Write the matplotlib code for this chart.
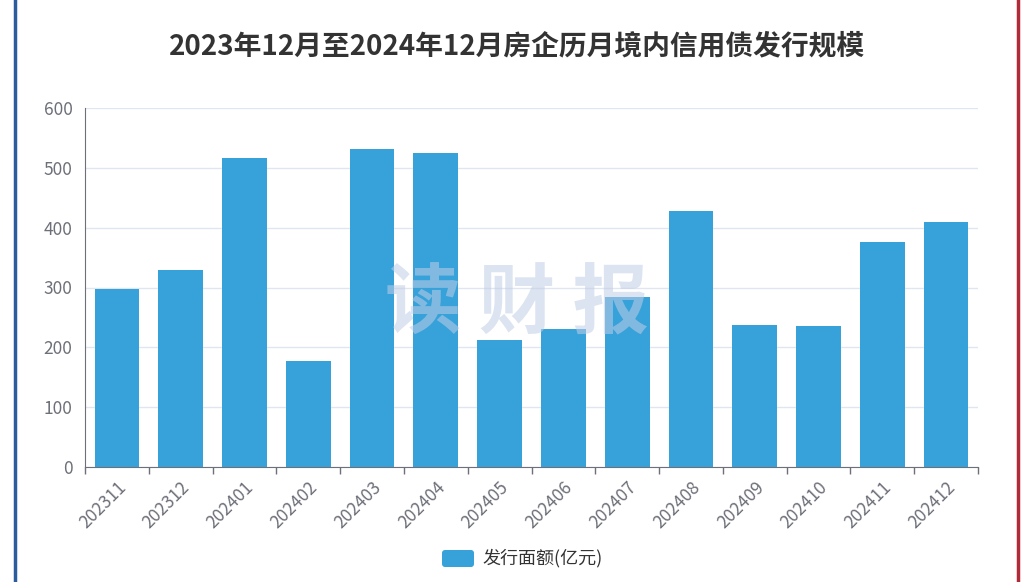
import numpy as np
import matplotlib
matplotlib.use("Agg")
import matplotlib.pyplot as plt
from matplotlib.lines import Line2D
from matplotlib.patches import FancyBboxPatch

plt.rcParams["font.family"] = ["Noto Sans CJK SC", "DejaVu Sans"]

months = ["202311", "202312", "202401", "202402", "202403", "202404", "202405",
          "202406", "202407", "202408", "202409", "202410", "202411", "202412"]
amounts = [298, 330, 517, 177, 532, 525, 212, 231, 284, 428, 237, 236, 376, 410]
yticks = [0, 100, 200, 300, 400, 500, 600]

title = "2023年12月至2024年12月房企历月境内信用债发行规模"
series_name = "发行面额(亿元)"
bar_color = "#37a2da"

fig = plt.figure(figsize=(10.34, 5.82), dpi=100)
ax = fig.add_axes([85 / 1034, 1 - 467 / 582, 893 / 1034, 359 / 582])

x = np.arange(len(months))
ax.bar(x, amounts, width=0.7, color=bar_color, zorder=2)

ax.set_xlim(-0.5, len(months) - 0.5)
ax.set_ylim(0, 600)
ax.set_yticks(yticks)
ax.set_yticklabels([str(v) for v in yticks], fontsize=12.5, color="#6e7079")
ax.tick_params(axis="y", length=0, pad=9)
ax.grid(axis="y", color="#e0e6f1", linewidth=1, zorder=0)

ax.set_xticks(x)
ax.set_xticklabels(months, rotation=45, ha="right", rotation_mode="anchor",
                   fontsize=12.5, color="#6e7079")
ax.tick_params(axis="x", length=0, pad=8)
ax.set_xticks(np.arange(-0.5, len(months)), minor=True)
ax.tick_params(axis="x", which="minor", length=5, color="#6e7079", width=1)

for s in ["top", "right"]:
    ax.spines[s].set_visible(False)
ax.spines["left"].set_color("#6e7079")
ax.spines["bottom"].set_color("#6e7079")

# watermark
fig.text(517 / 1034, 1 - 305 / 582, "读 财 报", fontsize=55, fontweight="bold",
         color="#c0cde6", alpha=0.55, ha="center", va="center", zorder=10)

fig.text(517 / 1034, 1 - 46 / 582, title, fontsize=20, fontweight="bold",
         color="#333333", ha="center", va="center")

# legend
leg_ax = fig.add_axes([0, 0, 1, 1], facecolor="none")
leg_ax.set_xlim(0, 1034)
leg_ax.set_ylim(582, 0)
leg_ax.axis("off")
leg_ax.add_patch(FancyBboxPatch((442, 550), 32, 17, boxstyle="round,pad=0,rounding_size=3",
                                facecolor=bar_color, edgecolor="none"))
leg_ax.text(482, 558, series_name, fontsize=13, color="#333333", va="center", ha="left")

# side borders
leg_ax.add_line(Line2D([15, 15], [0, 582], color="#2a5c9e", linewidth=2.5))
leg_ax.add_line(Line2D([1018, 1018], [0, 582], color="#b02a37", linewidth=2.5))

fig.savefig("out.png", dpi=100)
